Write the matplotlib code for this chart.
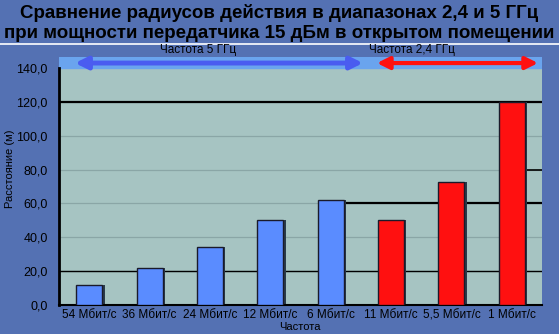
import matplotlib.pyplot as plt
from matplotlib.patches import FancyArrowPatch

# data
categories = ['54 Мбит/с', '36 Мбит/с', '24 Мбит/с', '12 Мбит/с', '6 Мбит/с',
              '11 Мбит/с', '5,5 Мбит/с', '1 Мбит/с']
distance = [12, 22, 34, 50, 62, 50, 72.5, 120]
band = ['5', '5', '5', '5', '5', '2.4', '2.4', '2.4']
yticks = [0, 20, 40, 60, 80, 100, 120, 140]

bg = '#5471b3'
plot_bg = '#a6c4c2'
band_col = '#6aa4ee'
blue = '#5a8cff'
red = '#ff1010'

fig = plt.figure(figsize=(5.59, 3.34), dpi=100)
fig.patch.set_facecolor(bg)

W, H = 559, 334
ax = fig.add_axes([59 / W, 1 - 305 / H, (542 - 59) / W, (305 - 57) / H])
ax.set_facecolor(plot_bg)

ymax = 140 * (305 - 57) / (305 - 68)
ax.set_ylim(0, ymax)
ax.set_xlim(-0.5, len(categories) - 0.5)

# light blue strip on top with the arrows
ax.axhspan(140, ymax, color=band_col, zorder=0.5)

# grid lines, some black as in the original
for t in yticks[1:-1]:
    ax.axhline(t, color='#8aa6a6', lw=0.9, zorder=1)
ax.axhline(120, color='black', lw=1.6, zorder=1.2)
ax.axhline(20, color='black', lw=1.0, zorder=1.2)
ax.plot([4.2, 7.5], [60, 60], color='black', lw=1.6, zorder=1.2)
ax.plot([7.2, 7.5], [80, 80], color='black', lw=1.2, zorder=1.2)

x = list(range(len(categories)))
colors = [blue if b == '5' else red for b in band]
# dark shadow behind each bar
ax.bar([i + 0.04 for i in x], distance, width=0.43, color='#2a3a4a', zorder=2)
ax.bar(x, distance, width=0.43, color=colors, edgecolor='#1a1a2a', lw=1.0, zorder=3)

# arrows in the top strip
ya = 140 + (ymax - 140) * 0.45
ax.add_patch(FancyArrowPatch((-0.28, ya), (4.58, ya), arrowstyle='<|-|>',
                             mutation_scale=18, color='#4a5cf0', lw=3.5, zorder=4,
                             clip_on=False))
ax.add_patch(FancyArrowPatch((4.72, ya), (7.48, ya), arrowstyle='<|-|>',
                             mutation_scale=18, color='#ff1010', lw=3.0, zorder=4,
                             clip_on=False))

ax.set_yticks(yticks)
ax.set_yticklabels([f'{t:.1f}'.replace('.', ',') for t in yticks], fontsize=9,
                   family='Liberation Sans')
ax.set_xticks(x)
ax.set_xticklabels(categories, fontsize=8.5, family='Liberation Sans')
ax.tick_params(axis='y', length=0, pad=8)
ax.tick_params(axis='x', length=0, pad=3)

for s in ['top', 'right']:
    ax.spines[s].set_visible(False)
ax.spines['left'].set_linewidth(2)
ax.spines['left'].set_bounds(0, 140)
ax.spines['bottom'].set_linewidth(1.5)

# axis titles
fig.text(300 / W, 1 - 327 / H, 'Частота', ha='center', va='center', fontsize=8,
         family='Liberation Sans')
fig.text(10 / W, 1 - 169 / H, 'Расстояние (м)', ha='center', va='center',
         rotation=90, fontsize=8, family='Liberation Sans')

# title block
fig.text(0.5, 1 - 13 / H, 'Сравнение радиусов действия в диапазонах 2,4 и 5 ГГц',
         ha='center', va='center', fontsize=13.5, fontweight='bold',
         family='Liberation Sans')
fig.text(0.5, 1 - 33 / H, 'при мощности передатчика 15 дБм в открытом помещении',
         ha='center', va='center', fontsize=13.5, fontweight='bold',
         family='Liberation Sans')
fig.add_artist(plt.Line2D([0, 1], [1 - 43.5 / H] * 2, color='white', lw=1.2))
fig.text(198 / W, 1 - 50 / H, 'Частота 5 ГГц', ha='center', va='center', fontsize=8.5,
         family='Liberation Sans')
fig.text(412 / W, 1 - 50 / H, 'Частота 2,4 ГГц', ha='center', va='center', fontsize=8.5,
         family='Liberation Sans')

fig.savefig('out.png', dpi=100, facecolor=bg)
